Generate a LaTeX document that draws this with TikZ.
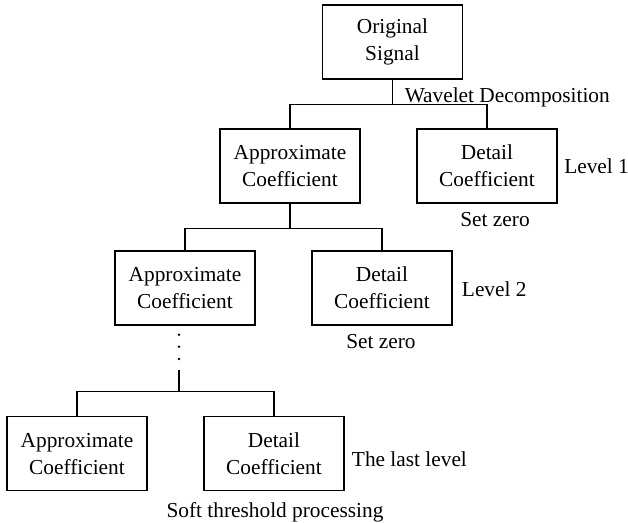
\documentclass[tikz,border=0pt]{standalone}
\usepackage{fontspec}
\setmainfont{Liberation Serif}
\usetikzlibrary{
	positioning
}

\tikzset{
	coef/.style={draw,line width=1pt,inner sep=0pt,minimum width=105pt,minimum height=55.5pt,align=center},
	note/.style={inner sep=0pt},
	wire/.style={line width=1pt}
}

\begin{document}
\begin{tikzpicture}[x=0.75pt,y=-0.75pt,node distance=147.75pt,font=\fontsize{16}{20}\selectfont]
		\useasboundingbox (0,0) rectangle (628,522);

		\draw
			node[coef]                 (orig) at (392.5,42)  {Original\\Signal}
			node[coef]                 (app1) at (290,166)   {Approximate\\Coefficient}
			node[coef,right of=app1]   (det1)                {Detail\\Coefficient}
			node[coef]                 (app2) at (185,288)   {Approximate\\Coefficient}
			node[coef,right of=app2]   (det2)                {Detail\\Coefficient}
			node[coef]                 (app3) at (77,453.7)  {Approximate\\Coefficient}
			node[coef,right of=app3]   (det3)                {Detail\\Coefficient}
		;

		% decomposition tree
		\draw[wire] (orig.south) -- ++(0,25) coordinate (j1);
		\draw[wire] (app1.north) |- (j1) -| (det1.north);
		\draw[wire] (app1.south) -- ++(0,24.7) coordinate (j2);
		\draw[wire] (app2.north) |- (j2) -| (det2.north);

		\foreach \y in {334.7,346.7,359}
			\fill (179,\y) circle (1.4);
		\coordinate (tail) at (179,370);
		\draw[wire] (tail) -- ++(0,21.7) coordinate (j3);
		\draw[wire] (app3.north) |- (j3) -| (det3.north);

		% labels
		\draw
			node[note,anchor=base west] (wave)  at (404.5,102.3) {Wavelet Decomposition}
			node[note,anchor=base west] (lev1)  at (564,173.3)   {Level 1}
			node[note,anchor=base]      (zero1) at (495,226.7)   {Set zero}
			node[note,anchor=base west] (lev2)  at (461.7,296)   {Level 2}
			node[note,anchor=base]      (zero2) at (381,348.3)   {Set zero}
			node[note,anchor=base west] (levn)  at (351.7,466.7) {The last level}
			node[note,anchor=base]      (soft)  at (275,517.7)   {Soft threshold processing}
		;
	\end{tikzpicture}
\end{document}
